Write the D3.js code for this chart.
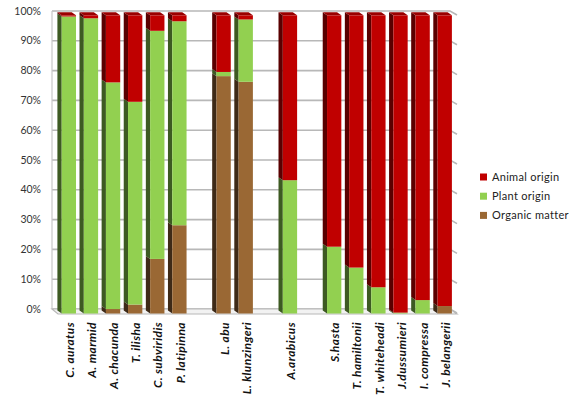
<!DOCTYPE html>
<html><head><meta charset="utf-8">
<script src="https://cdn.jsdelivr.net/npm/d3@7/dist/d3.min.js"></script>
<style>body{margin:0;background:#fff}svg{display:block}</style>
</head><body>
<svg id="c" width="579" height="400"></svg>
<script>
// slots: null = empty gap between groups
const categories = ["C. auratus","A. marmid","A. chacunda","T. ilisha","C. subviridis","P. latipinna",null,
  "L. abu","L. klunzingeri",null,"A.arabicus",null,"S.hasta","T. hamiltonii","T. whiteheadi","J.dussumieri","I. compressa","J. belangerii"];
const organicMatter = [0,0,1.5,3,18.3,29.6,null,79.6,77.7,null,0,null,0,0,0,0,0,2.5];
const plantOrigin   = [99.6,99,76,68,76.5,68.4,null,1.4,20.9,null,44.7,null,22.4,15.4,8.8,0.3,4.5,0];
const animalOrigin  = [0.4,1,22.5,29,5.2,2,null,19,1.4,null,55.3,null,77.6,84.6,91.2,99.7,95.5,97.5];
const seriesNames = ["Organic matter","Plant origin","Animal origin"];
const yTicks = [0,10,20,30,40,50,60,70,80,90,100];

const colors = {"Organic matter":"#9a6834","Plant origin":"#92d050","Animal origin":"#c00000"};
const sideColors = {"Organic matter":"#3e2a17","Plant origin":"#3d5a22","Animal origin":"#5a0000"};
const topColors = {"Organic matter":"#7a4f25","Plant origin":"#6fa83a","Animal origin":"#9a0000"};

const svg = d3.select("#c");
const wallL = 52, wallR = 450;
const x = d3.scaleBand().domain(d3.range(categories.length)).range([wallL, wallR]);
const yBack = d3.scaleLinear().domain([0,100]).range([309, 11]);
const yFront = d3.scaleLinear().domain([0,100]).range([313.5, 15.3]);
const frontOff = 9.7, barW = 14.3, dX = 4.3, dY = 3;

// gridlines on back wall
const g = svg.append("g");
yTicks.forEach(t => {
  const yy = yBack(t);
  g.append("path").attr("d", `M${wallL},${yy}H${wallR}L${wallR+7},${yy+4}`)
    .attr("fill","none").attr("stroke","#b8b8b8").attr("stroke-width",1.6);
});
g.append("line").attr("x1",wallL).attr("x2",wallL).attr("y1",yBack(100)).attr("y2",yBack(0))
  .attr("stroke","#c8c8c8").attr("stroke-width",1.2);
// floor
g.append("path").attr("d",`M${wallL},${yBack(0)}L${wallL+6},${yBack(0)+5}H${wallR+7}L${wallR},${yBack(0)}Z`)
  .attr("fill","#f2f2f2").attr("stroke","#b8b8b8").attr("stroke-width",1.2);

// y labels
svg.append("g").selectAll("text").data(yTicks).join("text")
  .attr("x",41).attr("y",d=>yBack(d)).attr("dy","0.35em").attr("text-anchor","end")
  .attr("font-family","Lato, 'Open Sans', sans-serif").attr("font-size",10.5).attr("fill","#333")
  .text(d=>d+"%");

// stacked data
const rows = categories.map((c,i)=>({i, c, "Organic matter":organicMatter[i], "Plant origin":plantOrigin[i], "Animal origin":animalOrigin[i]})).filter(d=>d.c!==null);
const stack = d3.stack().keys(seriesNames)(rows);

const bars = svg.append("g");
rows.forEach((r, ri) => {
  const fx = x(r.i) + frontOff;
  const segs = stack.map(s => ({key:s.key, y0:s[ri][0], y1:s[ri][1]})).filter(s => s.y1 - s.y0 > 0);
  segs.forEach(s => {
    const yt = yFront(s.y1), yb = yFront(s.y0);
    bars.append("path").attr("d",`M${fx},${yt}L${fx-dX},${yt-dY}L${fx-dX},${yb-dY}L${fx},${yb}Z`)
      .attr("fill", sideColors[s.key]);
    bars.append("rect").attr("x",fx).attr("y",yt).attr("width",barW).attr("height",yb-yt)
      .attr("fill", colors[s.key]);
  });
  const topSeg = segs[segs.length-1];
  const yt = yFront(topSeg.y1);
  bars.append("path").attr("d",`M${fx},${yt}L${fx-dX},${yt-dY}L${fx+barW-dX},${yt-dY}L${fx+barW},${yt}Z`)
    .attr("fill", topColors[topSeg.key]);
});

// category labels
svg.append("g").selectAll("text").data(rows).join("text")
  .attr("transform", d => `translate(${x(d.i)+frontOff+barW/2+1},322) rotate(-90)`)
  .attr("text-anchor","end").attr("dy","0.35em")
  .attr("font-family","Lato, 'Open Sans', sans-serif").attr("font-size",12)
  .attr("letter-spacing",0.4)
  .attr("font-weight","bold").attr("font-style","italic").attr("fill","#111")
  .text(d=>d.c);

// legend
const legendItems = ["Animal origin","Plant origin","Organic matter"];
const lg = svg.append("g").attr("transform","translate(480,177)");
legendItems.forEach((k,j)=>{
  lg.append("rect").attr("x",0).attr("y",j*19.2-3.5).attr("width",7).attr("height",7).attr("fill",colors[k]);
  lg.append("text").attr("x",12).attr("y",j*19.2).attr("dy","0.35em")
    .attr("font-family","Lato, 'Open Sans', sans-serif").attr("font-size",11).attr("letter-spacing",0.3)
    .attr("fill","#222").text(k);
});
</script>
</body></html>
